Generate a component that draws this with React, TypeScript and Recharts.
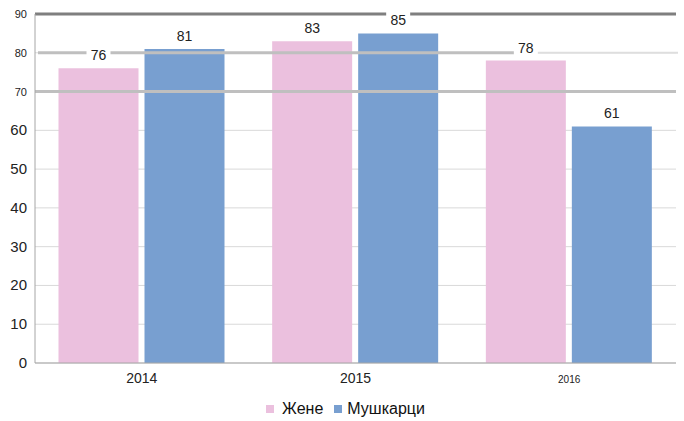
import { Bar, BarChart, CartesianGrid, LabelList, Legend, ReferenceLine, XAxis, YAxis } from "recharts";

const years = ["2014", "2015", "2016"];
const women = [76, 83, 78];
const men = [81, 85, 61];
const yTicks = [0, 10, 20, 30, 40, 50, 60, 70, 80, 90];

const PINK = "#ebc0de";
const BLUE = "#789fd0";
const FONT = "'Liberation Sans', Arial, sans-serif";

const data = years.map((year, i) => ({ year, women: women[i], men: men[i] }));

// 70-90 are printed smaller and narrower than the rest
const YTick = ({ x, y, payload }: any) => {
  const small = payload.value >= 70;
  return (
    <text
      x={x}
      y={y}
      dy={small ? 4 : 5}
      textAnchor="end"
      fill="#222"
      fontSize={small ? 11 : 15}
      fontFamily={small ? "'Liberation Sans Narrow', " + FONT : FONT}
    >
      {payload.value}
    </text>
  );
};

const XTick = ({ x, y, payload }: any) => (
  <text x={x} y={y + 12} textAnchor="middle" fill="#222" fontSize={payload.value === "2016" ? 10 : 14} fontFamily={FONT}>
    {payload.value}
  </text>
);

// value label on a white box, which cuts the reference lines
const BoxLabel = (props: any) => {
  const { x, y, width, value } = props;
  const cx = x + width / 2;
  const base = y - 8;
  return (
    <g>
      <rect x={cx - 12} y={base - 14} width={24} height={18} fill="#fff" />
      <text x={cx} y={base} textAnchor="middle" fill="#222" fontSize={14} fontFamily={FONT}>
        {value}
      </text>
    </g>
  );
};

// 80 line goes thin after the last label
const SplitLine = (props: any) => {
  const { x1, x2, y1 } = props;
  const xm = x1 + (x2 - x1) * 0.78;
  return (
    <g>
      <line x1={x1 + 3} x2={xm} y1={y1} y2={y1} stroke="#bfbfbf" strokeWidth={3} />
      <line x1={xm} x2={x2 + 2} y1={y1} y2={y1} stroke="#dedede" strokeWidth={2} />
    </g>
  );
};

const LegendBox = () => (
  <div
    style={{
      display: "flex",
      justifyContent: "center",
      alignItems: "center",
      height: 24,
      paddingTop: 4,
      paddingLeft: 15,
      fontFamily: FONT,
      fontSize: 16,
      color: "#111",
    }}
  >
    <span style={{ width: 8, height: 8, background: PINK, marginRight: 8 }} />
    <span style={{ marginRight: 11 }}>Жене</span>
    <span style={{ width: 8, height: 8, background: BLUE, marginRight: 5 }} />
    <span>Мушкарци</span>
  </div>
);

export default function App() {
  return (
    <div style={{ position: "absolute", left: 0, top: 0, fontFamily: FONT }}>
      <BarChart
        width={684}
        height={421}
        data={data}
        margin={{ top: 14, right: 8, left: 0, bottom: 0 }}
        barCategoryGap="11%"
        barGap={6}
      >
        <CartesianGrid vertical={false} stroke="#d9d9d9" />
        <XAxis dataKey="year" height={30} tickLine={false} stroke="#a6a6a6" tick={<XTick />} />
        <YAxis
          width={35}
          domain={[0, 90]}
          ticks={yTicks}
          interval={0}
          tickLine={false}
          stroke="#a6a6a6"
          tick={<YTick />}
        />
        <YAxis
          yAxisId="right"
          orientation="right"
          width={0}
          domain={[0, 90]}
          tick={false}
          tickLine={false}
          axisLine={{ stroke: "#8c8c8c", strokeWidth: 1.5 }}
        />
        <Legend verticalAlign="bottom" content={<LegendBox />} />
        <Bar dataKey="women" name="Жене" fill={PINK} isAnimationActive={false}>
          <LabelList dataKey="women" content={<BoxLabel />} />
        </Bar>
        <Bar dataKey="men" name="Мушкарци" fill={BLUE} isAnimationActive={false}>
          <LabelList dataKey="men" content={<BoxLabel />} />
        </Bar>
        <ReferenceLine y={70} stroke="#bfbfbf" strokeWidth={3} />
        <ReferenceLine y={80} shape={SplitLine} />
        <ReferenceLine y={90} stroke="#7f7f7f" strokeWidth={3} />
      </BarChart>
    </div>
  );
}
